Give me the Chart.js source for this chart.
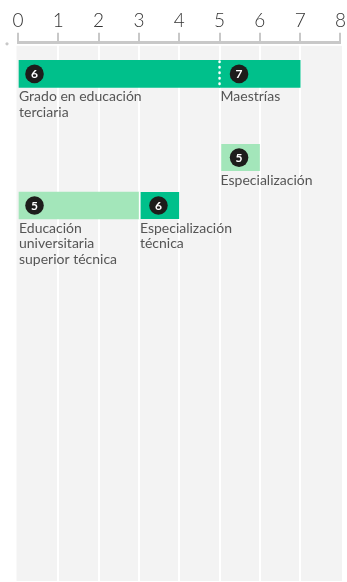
<!DOCTYPE html>
<html lang="es">
<head>
    <meta charset="UTF-8">
    <title>Trayectorias educativas</title>
    <script src="https://cdn.jsdelivr.net/npm/chart.js"></script>
    <style>
        html, body {
            margin: 0;
            padding: 0;
            background-color: #fff;
        }
        #wrap {
            width: 347px;
            height: 582px;
        }
    </style>
</head>
<body>
    <div id="wrap"><canvas id="years"></canvas></div>

    <script>
        // one entry per segment
        var names = [
            ['Grado en educación', 'terciaria'],
            ['Maestrías'],
            ['Especialización'],
            ['Educación', 'universitaria', 'superior técnica'],
            ['Especialización', 'técnica']
        ];
        var levels = [6, 7, 5, 5, 6];
        var starts = [0, 5, 5, 0, 3];
        var ends = [5, 7, 6, 3, 4];
        var rows = [1, 1, 2.75, 3.75, 3.75];
        var continues = [false, true, false, false, false]; // joined to previous segment
        var xTicks = [0, 1, 2, 3, 4, 5, 6, 7, 8];

        var GREEN = '#00c08b';
        var LIGHT = '#a3e6ba';
        var GRAY_BG = '#f3f3f3';
        var AXIS = '#c8c8c8';

        var segments = starts.map(function (s, i) {
            return { x: [s, ends[i]], y: rows[i] };
        });

        var decorations = {
            id: 'decorations',
            beforeDraw: function (chart) {
                var c = chart.ctx, a = chart.chartArea;
                c.save();
                c.fillStyle = GRAY_BG;
                c.fillRect(a.left - 1.5, a.top + 3, a.right - a.left + 3, a.bottom - a.top - 3);
                c.fillStyle = AXIS;
                c.beginPath();
                c.arc(7, a.top + 1, 1.6, 0, Math.PI * 2);
                c.fill();
                c.restore();
            },
            afterDatasetsDraw: function (chart) {
                var c = chart.ctx;
                var xs = chart.scales.x;
                var meta = chart.getDatasetMeta(0);
                c.save();
                meta.data.forEach(function (bar, i) {
                    var x0 = xs.getPixelForValue(starts[i]);
                    var top = bar.y - bar.height / 2;
                    var bottom = bar.y + bar.height / 2;

                    if (continues[i]) {
                        c.strokeStyle = '#fff';
                        c.lineWidth = 2.5;
                        c.lineCap = 'round';
                        c.setLineDash([0.5, 5]);
                        c.beginPath();
                        c.moveTo(x0, top + 1);
                        c.lineTo(x0, bottom);
                        c.stroke();
                        c.setLineDash([]);
                    }

                    // level badge
                    var bx = starts[i] === 0 ? x0 + 16.5 : x0 + 19.5;
                    c.fillStyle = '#1d1d1b';
                    c.beginPath();
                    c.arc(bx, bar.y, 9.3, 0, Math.PI * 2);
                    c.fill();
                    c.fillStyle = '#fff';
                    c.font = 'bold 12px Lato';
                    c.textAlign = 'center';
                    c.textBaseline = 'middle';
                    c.fillText(String(levels[i]), bx, bar.y + 0.5);

                    // name under the bar
                    c.fillStyle = '#555';
                    c.font = '14px Lato';
                    c.textAlign = 'left';
                    c.textBaseline = 'alphabetic';
                    names[i].forEach(function (line, k) {
                        c.fillText(line, x0 + 1, bottom + 14 + k * 15.5);
                    });
                });
                c.restore();
            }
        };

        var ctx = document.getElementById('years').getContext('2d');
        new Chart(ctx, {
            type: 'bar',
            data: {
                datasets: [{
                    data: segments,
                    backgroundColor: levels.map(function (l) { return l === 5 ? LIGHT : GREEN; }),
                    borderColor: '#fff',
                    borderWidth: starts.map(function (s, i) {
                        return (s > 0 && !continues[i]) ? { left: 2, right: 0, top: 0, bottom: 0 } : 0;
                    }),
                    borderSkipped: false,
                    barThickness: 27
                }]
            },
            options: {
                indexAxis: 'y',
                responsive: true,
                maintainAspectRatio: false,
                animation: false,
                layout: { padding: { left: 18, right: 0, top: 8, bottom: 1 } },
                plugins: {
                    legend: { display: false },
                    tooltip: { enabled: false }
                },
                scales: {
                    x: {
                        type: 'linear',
                        position: 'top',
                        min: 0,
                        max: 8,
                        afterBuildTicks: function (axis) {
                            axis.ticks = xTicks.map(function (v) { return { value: v }; });
                        },
                        border: { color: AXIS, width: 3 },
                        grid: {
                            color: function (c) {
                                var v = c.tick ? c.tick.value : 0;
                                return (v === 0 || v === 8) ? 'rgba(0,0,0,0)' : '#fff';
                            },
                            lineWidth: 2,
                            tickColor: AXIS,
                            tickLength: 10,
                            tickWidth: 2
                        },
                        ticks: {
                            color: '#333',
                            font: { family: 'Lato', size: 19, weight: '300' },
                            padding: 1
                        }
                    },
                    y: {
                        type: 'linear',
                        display: false,
                        offset: false,
                        reverse: true,
                        min: 0.35,
                        max: 11.6
                    }
                }
            },
            plugins: [decorations]
        });
    </script>
</body>
</html>
